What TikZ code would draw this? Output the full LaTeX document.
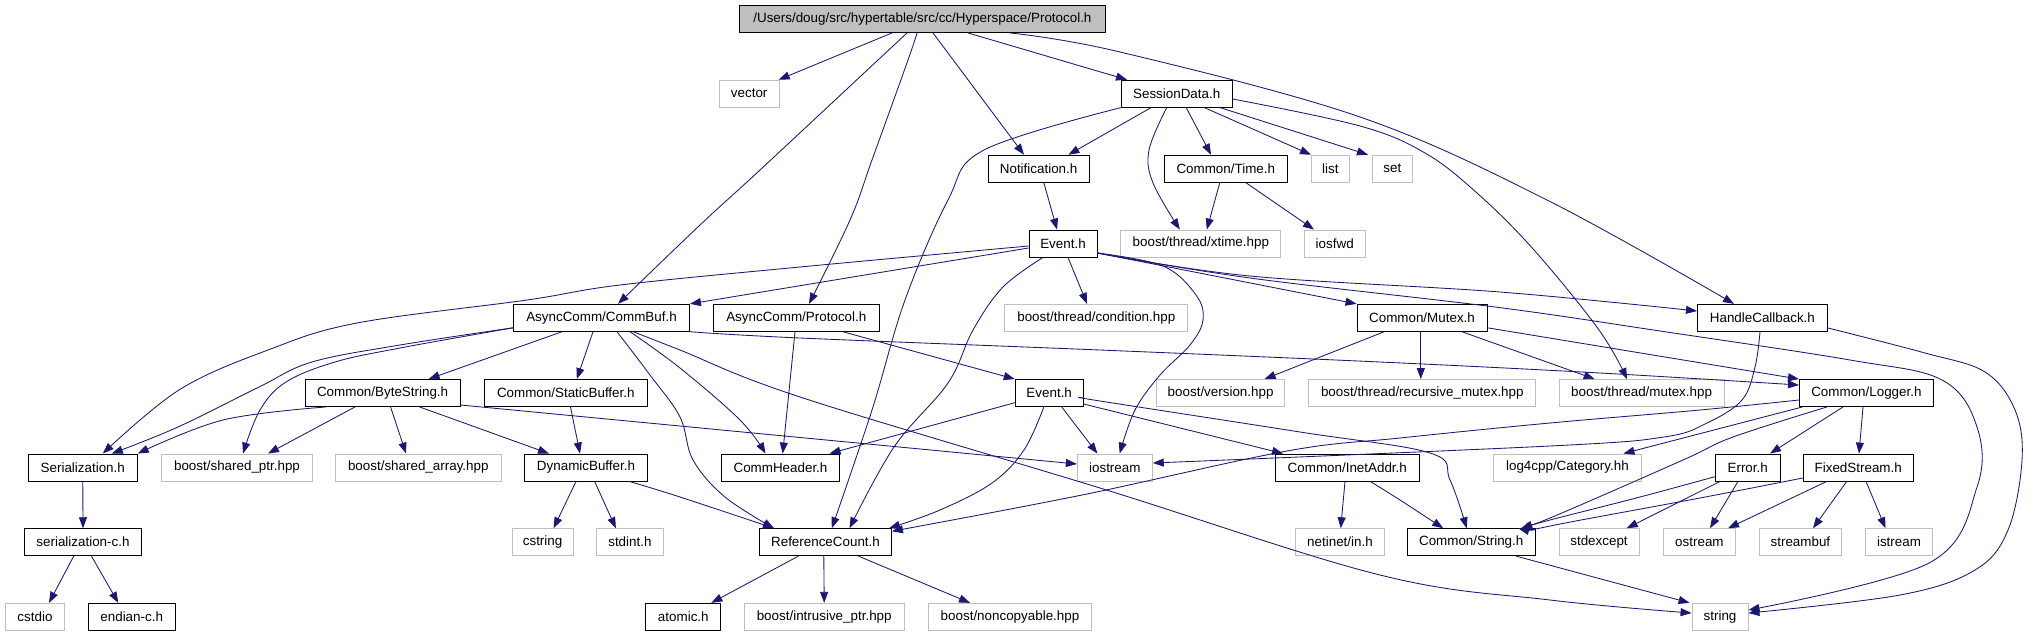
\documentclass[tikz,border=0pt]{standalone}
\usepackage{fontspec}
\setmainfont{Liberation Sans}
\usetikzlibrary{arrows.meta}
\definecolor{edgec}{HTML}{191970}
\definecolor{grayb}{HTML}{BFBFBF}
\definecolor{topfill}{HTML}{BFBFBF}
\begin{document}
\begin{tikzpicture}[x=1pt,y=-1pt,
 bx/.style={draw=black,line width=0.9pt,minimum height=27pt,inner sep=0pt,font=\fontsize{13.4pt}{16pt}\selectfont},
 gx/.style={bx,draw=grayb},
 edg/.style={draw=edgec,line width=0.85pt,-{Triangle[length=11pt,width=8pt]}},
 sm/.style={smooth,tension=0.6}]
\useasboundingbox[fill=white] (0,0) rectangle (2041,635);
% row 1
\node[bx,fill=topfill,minimum width=366pt] (P) at (922.4,19) {/Users/doug/src/hypertable/src/cc/Hyperspace/Protocol.h};
% row 2
\node[gx,minimum width=60pt] (vec) at (749.2,93.7) {vector};
\node[bx,minimum width=111pt] (SD) at (1176.7,93.7) {SessionData.h};
% row 3
\node[bx,minimum width=101pt] (Notif) at (1038.6,168.7) {Notification.h};
\node[bx,minimum width=123pt] (Time) at (1225.8,168.7) {Common/Time.h};
\node[gx,minimum width=38pt] (list) at (1330.4,168.7) {list};
\node[gx,minimum width=40pt] (set) at (1392.4,168.7) {set};
% row 4
\node[bx,minimum width=68pt] (E1) at (1063,243.5) {Event.h};
\node[gx,minimum width=160pt] (xtime) at (1200.8,243.5) {boost/thread/xtime.hpp};
\node[gx,minimum width=61pt] (iosfwd) at (1334.7,243.5) {iosfwd};
% row 5
\node[bx,minimum width=176pt] (CB) at (601.5,317.8) {AsyncComm/CommBuf.h};
\node[bx,minimum width=166pt] (AP) at (796.3,317.8) {AsyncComm/Protocol.h};
\node[gx,minimum width=183pt] (cond) at (1096.3,317.8) {boost/thread/condition.hpp};
\node[bx,minimum width=130pt] (Mutex) at (1422,317.8) {Common/Mutex.h};
\node[bx,minimum width=130pt] (HC) at (1762.4,317.8) {HandleCallback.h};
% row 6
\node[bx,minimum width=155pt] (BS) at (382.6,393) {Common/ByteString.h};
\node[bx,minimum width=163pt] (SB) at (565.8,393) {Common/StaticBuffer.h};
\node[bx,minimum width=68pt] (E2) at (1049.2,393) {Event.h};
\node[gx,minimum width=128.6pt] (ver) at (1220.6,393) {boost/version.hpp};
\node[gx,minimum width=227pt] (rmutex) at (1422.3,393) {boost/thread/recursive\_mutex.hpp};
\node[gx,minimum width=165pt] (mutexhpp) at (1641.6,393) {boost/thread/mutex.hpp};
\node[bx,minimum width=134pt] (Logger) at (1866.4,393) {Common/Logger.h};
% row 7
\node[bx,minimum width=109pt] (Ser) at (82.8,467.5) {Serialization.h};
\node[gx,minimum width=151pt] (sptr) at (237,467.5) {boost/shared\_ptr.hpp};
\node[gx,minimum width=166pt] (sarr) at (418.3,467.5) {boost/shared\_array.hpp};
\node[bx,minimum width=123pt] (DB) at (586,467.5) {DynamicBuffer.h};
\node[bx,minimum width=118pt] (CH) at (780.5,467.5) {CommHeader.h};
\node[gx,minimum width=75pt] (ios) at (1114.8,467.5) {iostream};
\node[bx,minimum width=144pt] (Inet) at (1347.3,467.5) {Common/InetAddr.h};
\node[gx,minimum width=148pt] (cat) at (1567.4,467.5) {log4cpp/Category.hh};
\node[bx,minimum width=65pt] (Err) at (1747.7,467.5) {Error.h};
\node[bx,minimum width=110pt] (FS) at (1858.2,467.5) {FixedStream.h};
% row 8
\node[bx,minimum width=117pt] (serc) at (83,542.2) {serialization-c.h};
\node[gx,minimum width=61pt] (cstring) at (542.6,542.2) {cstring};
\node[gx,minimum width=67pt] (stdint) at (629.9,542.2) {stdint.h};
\node[bx,minimum width=132pt] (RC) at (825.5,542.2) {ReferenceCount.h};
\node[gx,minimum width=89pt] (netinet) at (1340,542.2) {netinet/in.h};
\node[bx,minimum width=128pt] (Str) at (1471.2,542.2) {Common/String.h};
\node[gx,minimum width=80pt] (stdexc) at (1599,542.2) {stdexcept};
\node[gx,minimum width=72pt] (ostr) at (1699.4,542.2) {ostream};
\node[gx,minimum width=82pt] (sbuf) at (1800.4,542.2) {streambuf};
\node[gx,minimum width=67pt] (istr) at (1899,542.2) {istream};
% row 9
\node[gx,minimum width=59pt] (cstdio) at (35,616.8) {cstdio};
\node[bx,minimum width=87pt] (endian) at (131.7,616.8) {endian-c.h};
\node[bx,minimum width=75pt] (atomic) at (683.3,616.8) {atomic.h};
\node[gx,minimum width=160pt] (intr) at (824.2,616.8) {boost/intrusive\_ptr.hpp};
\node[gx,minimum width=162.5pt] (nonc) at (1010,616.8) {boost/noncopyable.hpp};
\node[gx,minimum width=56pt] (string) at (1720,616.8) {string};

% ---- edges from Protocol.h
\draw[edg] ([xshift=-30.4]P.south) -- ([xshift=-1]vec.north east);
\draw[edg] plot[sm] coordinates {([xshift=-15.4]P.south) (878,60) (760,170) (700,225) ([xshift=16.5]CB.north)};
\draw[edg] plot[sm] coordinates {([xshift=-5.4]P.south) (908,60) (872,160) (850,220) ([xshift=12.7]AP.north)};
\draw[edg] ([xshift=10.6]P.south) -- ([xshift=-14.6]Notif.north);
\draw[edg] ([xshift=45.6]P.south) -- ([xshift=-49.7]SD.north);
\draw[edg] plot[sm] coordinates {([xshift=87.6]P.south) (1120,52) (1360,117) (1547,200) ([xshift=-28.4]HC.north)};
% ---- SessionData.h
\draw[edg] ([xshift=-25.7]SD.south) -- ([xshift=29.8]Notif.north);
\draw[edg] plot[sm] coordinates {(SD.south west) (984,150) (948,200) (905,300) (872,410) ([xshift=6.3]RC.north)};
\draw[edg] plot[sm] coordinates {([xshift=-10]SD.south) (1149,150) (1153,183) ([xshift=-21]xtime.north)};
\draw[edg] ([xshift=9.5]SD.south) -- ([xshift=-14.8]Time.north);
\draw[edg] ([xshift=27.8]SD.south) -- (list.north west);
\draw[edg] ([xshift=43.5]SD.south) -- ([xshift=-4]set.north west);
\draw[edg] plot[sm] coordinates {([yshift=-5.3]SD.east) (1360,126) (1425,153) (1477,193) (1534,250) (1599,330) ([xshift=-14.6]mutexhpp.north)};
% ---- Notification / Time
\draw[edg] ([xshift=5.2]Notif.south) -- ([xshift=-6]E1.north);
\draw[edg] ([xshift=-6]Time.south) -- ([xshift=6]xtime.north);
\draw[edg] ([xshift=20]Time.south) -- ([xshift=-20.7]iosfwd.north);
% ---- Event.h (upper)
\draw[edg] ([yshift=-4.5]E1.west) -- (CB.north east);
\draw[edg] plot[sm] coordinates {([yshift=-2.5]E1.west) (800,267) (620,285) (527,300) (357,323) (268,350) (179,390) ([xshift=20]Ser.north)};
\draw[edg] ([xshift=5]E1.south) -- ([xshift=-9.3]cond.north);
\draw[edg] plot[sm] coordinates {([xshift=-20]E1.south) (1003,287) (973,330) (948,383) (894,447) ([xshift=24]RC.north)};
\draw[edg] plot[sm] coordinates {([yshift=-9.5]E1.east) (1163,266) (1196,295) (1203,320) (1190,345) (1160,375) (1135,410) ([xshift=4.9]ios.north)};
\draw[edg] ([yshift=-9.5]E1.east) -- (Mutex.north west);
\draw[edg] plot[sm] coordinates {([yshift=-9.5]E1.east) (1250,276) (1500,292) ([yshift=6.8]HC.west)};
\draw[edg] plot[sm] coordinates {([yshift=-9.5]E1.east) (1250,278) (1495,307) (1660,331) (1850,360) (1942,380) (1977,427) (1977,487) (1929,563) ([yshift=6.8]string.east)};
% ---- HandleCallback.h
\draw[edg] plot[sm] coordinates {([yshift=-10.2]HC.east) (1925,353) (1985,372) (2015,410) (2022,460) (2008,530) (1975,570) (1900,595) ([yshift=3.8]string.east)};
\draw[edg] plot[sm] coordinates {([xshift=-2.4]HC.south) (1755,367) (1742,400) (1707,423) (1664,437) (1550,446) ([yshift=4.5]ios.east)};
% ---- AsyncComm/CommBuf.h
\draw[edg] ([xshift=-39.5]CB.south) -- ([xshift=46]BS.north);
\draw[edg] ([xshift=-8.5]CB.south) -- ([xshift=11]SB.north);
\draw[edg] plot[sm] coordinates {([xshift=15.5]CB.south) (650,375) (680,417) (693,460) (725,497) ([xshift=-51.5]RC.north)};
\draw[edg] plot[sm] coordinates {([xshift=28.5]CB.south) (680,368) (740,420) ([xshift=-15]CH.north)};
\draw[edg] plot[sm] coordinates {([xshift=31.8]CB.south) (680,350) (800,397) (1100,488) (1380,575) (1550,600) ([yshift=3.8]string.west)};
\draw[edg] plot[sm] coordinates {(CB.south east) (800,338) (1100,350) (1380,362) (1600,373) ([yshift=8]Logger.west)};
\draw[edg] plot[sm] coordinates {([yshift=-10]CB.west) (400,345) (312,362) (259,387) (178,427) ([xshift=29]Ser.north)};
\draw[edg] plot[sm] coordinates {([yshift=-10]CB.west) (400,348) (335,362) (286,382) (260,410) ([xshift=6]sptr.north)};
% ---- AsyncComm/Protocol.h
\draw[edg] ([xshift=-1.3]AP.south) -- ([xshift=2.2]CH.north);
\draw[edg] ([xshift=46.7]AP.south) -- (E2.north west);
% ---- Event.h (lower)
\draw[edg] ([yshift=-9.7]E2.west) -- ([xshift=49]CH.north);
\draw[edg] plot[sm] coordinates {([xshift=-5.4]E2.south) (1024,450) (992,483) (940,510) ([xshift=-3]RC.north east)};
\draw[edg] ([xshift=12.5]E2.south) -- ([xshift=-17.4]ios.north);
\draw[edg] ([yshift=-11]E2.east) -- ([xshift=-64.3]Inet.north);
\draw[edg] plot[sm] coordinates {([yshift=-5]E2.east) (1100,401) (1300,432) (1430,453) (1450,480) ([xshift=-4.5]Str.north)};
% ---- Common/InetAddr.h
\draw[edg] ([xshift=-2.3]Inet.south) -- ([xshift=0.7]netinet.north);
\draw[edg] plot[sm] coordinates {([xshift=23]Inet.south) (1400,500) ([xshift=-28]Str.north)};
% ---- Common/Mutex.h
\draw[edg] ([xshift=-38]Mutex.south) -- ([xshift=44]ver.north);
\draw[edg] ([xshift=-1.2]Mutex.south) -- ([xshift=-1.5]rmutex.north);
\draw[edg] ([xshift=40]Mutex.south) -- ([xshift=-47]mutexhpp.north);
\draw[edg] ([yshift=-10]Mutex.east) -- (Logger.north west);
% ---- Common/Logger.h
\draw[edg] plot[sm] coordinates {([yshift=-7]Logger.west) (1700,410) (1550,423) (1400,438) (1287,451) (1082,495) ([yshift=-3]RC.north east)};
\draw[edg] ([xshift=3.5]Logger.south west) -- ([xshift=56]cat.north);
\draw[edg] plot[sm] coordinates {([xshift=-39.4]Logger.south) (1733,437) (1683,460) (1550,518) ([xshift=47]Str.north)};
\draw[edg] ([xshift=-23.4]Logger.south) -- ([xshift=22.3]Err.north);
\draw[edg] ([xshift=-3.4]Logger.south) -- ([xshift=0.8]FS.north);
% ---- Error.h / FixedStream.h
\draw[edg] plot[sm] coordinates {([yshift=-9.2]Err.west) (1640,497) (1550,520) ([xshift=50]Str.north)};
\draw[edg] ([xshift=-27.7]Err.south) -- ([xshift=27.7]stdexc.north);
\draw[edg] ([xshift=-9.7]Err.south) -- ([xshift=10.6]ostr.north);
\draw[edg] plot[sm] coordinates {([yshift=-10.5]FS.west) (1700,498) (1560,524) ([yshift=-2]Str.north east)};
\draw[edg] ([xshift=-31.5]FS.south) -- ([xshift=28.6]ostr.north);
\draw[edg] ([xshift=-11.5]FS.south) -- ([xshift=12.6]sbuf.north);
\draw[edg] ([xshift=7.8]FS.south) -- ([xshift=-13.5]istr.north);
\draw[edg] ([xshift=45]Str.south) -- ([xshift=-2]string.north west);
% ---- Common/ByteString.h etc.
\draw[edg] plot[sm] coordinates {([xshift=-56.6]BS.south) (223,420) (Ser.north east)};
\draw[edg] ([xshift=-27.6]BS.south) -- ([xshift=31]sptr.north);
\draw[edg] ([xshift=8]BS.south) -- ([xshift=-12.3]sarr.north);
\draw[edg] ([xshift=37]BS.south) -- ([xshift=-37]DB.north);
\draw[edg] ([yshift=-12]BS.east) -- ([yshift=3.5]ios.west);
\draw[edg] ([xshift=4.7]SB.south) -- ([xshift=-6]DB.north);
\draw[edg] ([xshift=-10]DB.south) -- ([xshift=11]cstring.north);
\draw[edg] ([xshift=8.6]DB.south) -- ([xshift=-14]stdint.north);
\draw[edg] plot[sm] coordinates {([xshift=43.5]DB.south) (680,497) ([xshift=-51.5]RC.north)};
\draw[edg] (Ser.south) -- (serc.north);
\draw[edg] ([xshift=-9.3]serc.south) -- ([xshift=14]cstdio.north);
\draw[edg] ([xshift=8.5]serc.south) -- ([xshift=-13.4]endian.north);
% ---- ReferenceCount.h
\draw[edg] ([xshift=-27.2]RC.south) -- ([xshift=28]atomic.north);
\draw[edg] ([xshift=-1.7]RC.south) -- (intr.north);
\draw[edg] ([xshift=33]RC.south) -- ([xshift=-40]nonc.north);
\end{tikzpicture}
\end{document}
